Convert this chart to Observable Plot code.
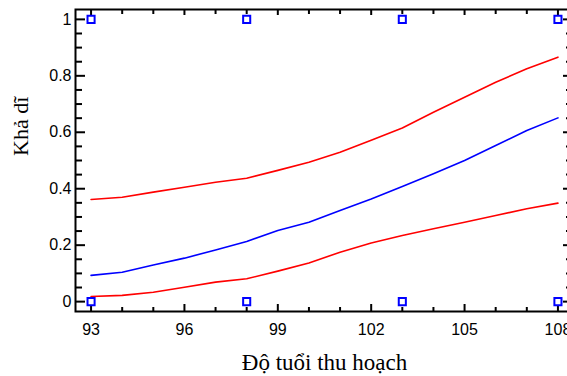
<!DOCTYPE html>
<html>
<head>
<meta charset="utf-8">
<script src="https://cdn.jsdelivr.net/npm/d3@7"></script>
<script src="https://cdn.jsdelivr.net/npm/@observablehq/plot@0.6"></script>
<style>
  html, body { margin: 0; padding: 0; background: #fff; overflow: hidden; }
  #chart { width: 567px; height: 376px; }
</style>
</head>
<body>
<div id="chart"></div>
<script>
// Data
const ages  = [93, 94, 95, 96, 97, 98, 99, 100, 101, 102, 103, 104, 105, 106, 107, 108];
const fit   = [0.093, 0.104, 0.130, 0.154, 0.183, 0.213, 0.252, 0.281, 0.323, 0.364, 0.408, 0.453, 0.500, 0.553, 0.606, 0.651];
const upper = [0.362, 0.370, 0.388, 0.405, 0.423, 0.437, 0.465, 0.494, 0.529, 0.572, 0.615, 0.671, 0.724, 0.777, 0.825, 0.866];
const lower = [0.018, 0.022, 0.033, 0.051, 0.069, 0.081, 0.108, 0.137, 0.175, 0.208, 0.234, 0.258, 0.281, 0.305, 0.329, 0.349];

const obsX = [93, 93, 98, 98, 103, 103, 108, 108];
const obsY = [0, 1, 0, 1, 0, 1, 0, 1];

const xTicks = [93, 96, 99, 102, 105, 108];
const xMinor = [94, 95, 97, 98, 100, 101, 103, 104, 106, 107];
const yTicks = [0, 0.2, 0.4, 0.6, 0.8, 1];
const yTickLabels = ["0", "0.2", "0.4", "0.6", "0.8", "1"];
const yMinor = [0.05, 0.1, 0.15, 0.25, 0.3, 0.35, 0.45, 0.5, 0.55, 0.65, 0.7, 0.75, 0.85, 0.9, 0.95];

const xLabel = "Độ tuổi thu hoạch";
const yLabel = "Khả dĩ";

const fitData = ages.map((a, i) => ({age: a, v: fit[i]}));
const upData = ages.map((a, i) => ({age: a, v: upper[i]}));
const loData = ages.map((a, i) => ({age: a, v: lower[i]}));
const obs = obsX.map((x, i) => ({x, y: obsY[i]}));
const yLab = yTicks.map((v, i) => ({v, t: yTickLabels[i]}));

const W = 567, H = 376, mL = 75, mR = -6, mT = 9, mB = 65;
const fw = W - mR - mL, fh = H - mT - mB;

const sans = "'Liberation Sans', Arial, sans-serif";
const serif = "'Liberation Serif', 'Times New Roman', serif";

const chart = Plot.plot({
  width: W, height: H,
  marginLeft: mL, marginRight: mR, marginTop: mT, marginBottom: mB,
  x: {domain: [92.5, 108.5], axis: null},
  y: {domain: [-0.035, 1.035], axis: null},
  style: {background: "white", overflow: "hidden"},
  marks: [
    // bottom ticks (inward)
    Plot.tickX(xTicks, {x: d => d, insetTop: fh - 7, stroke: "black", strokeWidth: 2}),
    Plot.tickX(xMinor, {x: d => d, insetTop: fh - 4, stroke: "black", strokeWidth: 2}),
    // top ticks (inward)
    Plot.tickX(xTicks, {x: d => d, insetBottom: fh - 6, stroke: "black", strokeWidth: 2}),
    Plot.tickX(xMinor, {x: d => d, insetBottom: fh - 5, stroke: "black", strokeWidth: 2}),
    // left ticks (inward)
    Plot.tickY(yTicks, {y: d => d, insetRight: fw - 10, stroke: "black", strokeWidth: 2}),
    Plot.tickY(yMinor, {y: d => d, insetRight: fw - 7, stroke: "black", strokeWidth: 2}),
    // right ticks (inward)
    Plot.tickY(yTicks, {y: d => d, insetLeft: fw - 10, stroke: "black", strokeWidth: 2}),
    Plot.tickY(yMinor, {y: d => d, insetLeft: fw - 7, stroke: "black", strokeWidth: 2}),
    Plot.frame({stroke: "black", strokeWidth: 2}),
    // curves
    Plot.line(upData, {x: "age", y: "v", stroke: "#ff0000", strokeWidth: 1.6}),
    Plot.line(loData, {x: "age", y: "v", stroke: "#ff0000", strokeWidth: 1.6}),
    Plot.line(fitData, {x: "age", y: "v", stroke: "#0000ff", strokeWidth: 1.6}),
    // observations
    Plot.dot(obs, {x: "x", y: "y", symbol: "square", r: 4, stroke: "#0000ff", fill: "white", strokeWidth: 2}),
    // tick labels
    Plot.text(xTicks, {x: d => d, text: d => String(d), frameAnchor: "bottom", dy: 18, lineAnchor: "middle",
      fontSize: 16, fontFamily: sans, fill: "black", letterSpacing: "-0.8px"}),
    Plot.text(yLab, {y: "v", text: "t", frameAnchor: "left", dx: -4, textAnchor: "end", lineAnchor: "middle",
      fontSize: 16, fontFamily: sans, fill: "black", letterSpacing: "-0.8px"}),
    // axis labels
    Plot.text([xLabel], {text: d => d, frameAnchor: "bottom", dy: 58, lineAnchor: "bottom",
      fontSize: 23, fontFamily: serif, fill: "black"}),
    Plot.text([yLabel], {text: d => d, frameAnchor: "left", dx: -48, dy: -4.5, rotate: -90, lineAnchor: "bottom",
      fontSize: 22, fontFamily: serif, fill: "black"})
  ]
});
document.getElementById("chart").appendChild(chart);
</script>
</body>
</html>
